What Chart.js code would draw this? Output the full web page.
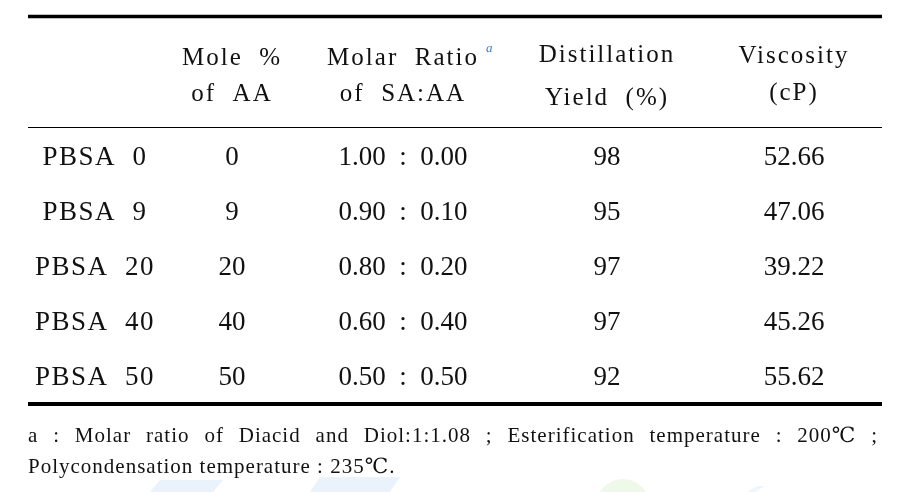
<!DOCTYPE html>
<html>
<head>
<meta charset="utf-8">
<script src="https://cdn.jsdelivr.net/npm/chart.js@4.4.1/dist/chart.umd.min.js"></script>
<style>
  html, body { margin: 0; padding: 0; background: #fff; }
  canvas { display: block; }
</style>
</head>
<body>
<canvas id="table" width="913" height="492"></canvas>
<script>
// table data
const rowLabels = ["PBSA  0", "PBSA  9", "PBSA  20", "PBSA  40", "PBSA  50"];
const moleAA = [0, 9, 20, 40, 50];
const ratioSA = [1.00, 0.90, 0.80, 0.60, 0.50];
const ratioAA = [0.00, 0.10, 0.20, 0.40, 0.50];
const yieldPct = [98, 95, 97, 97, 92];
const viscosity = [52.66, 47.06, 39.22, 45.26, 55.62];
const headerTop = ["", "Mole  %", "Molar  Ratio", "Distillation", "Viscosity"];
const headerBottom = ["", "of  AA", "of  SA:AA", "Yield  (%)", "(cP)"];
const footnoteLine1 = "a : Molar ratio of Diacid and Diol:1:1.08 ; Esterification temperature : 200\u2103 ;";
const footnoteLine2 = "Polycondensation temperature : 235\u2103.";

// layout (canvas units)
const colCenters = [95, 232, 403, 607, 794];
const headerBase = [[0, 0], [65, 101], [65, 101], [62, 105], [63, 100]];
const firstRowBase = 165;
const rowStep = 55;
const tableLeft = 28, tableRight = 882;

const columns = [
  rowLabels,
  moleAA.map(String),
  ratioSA.map((v, i) => v.toFixed(2) + "  :  " + ratioAA[i].toFixed(2)),
  yieldPct.map(String),
  viscosity.map(v => v.toFixed(2)),
];

const serif = '"Liberation Serif", "DejaVu Serif", serif';

const tablePlugin = {
  id: "tablePlugin",
  beforeDraw(chart) {
    const { ctx, scales: { x, y } } = chart;
    ctx.save();
    ctx.fillStyle = "#fff";
    ctx.fillRect(0, 0, chart.width, chart.height);
    // faint watermark blobs at the foot of the page
    const blob = (x0, x1, y0, col) => {
      ctx.fillStyle = col;
      ctx.beginPath();
      ctx.moveTo(x.getPixelForValue(x0 + 10), y.getPixelForValue(y0));
      ctx.lineTo(x.getPixelForValue(x1), y.getPixelForValue(y0));
      ctx.lineTo(x.getPixelForValue(x1 - 10), y.getPixelForValue(492));
      ctx.lineTo(x.getPixelForValue(x0), y.getPixelForValue(492));
      ctx.closePath();
      ctx.fill();
    };
    blob(150, 223, 480, "rgba(195,222,245,0.35)");
    blob(310, 400, 477, "rgba(195,222,245,0.35)");
    blob(747, 765, 486, "rgba(200,225,245,0.3)");
    ctx.fillStyle = "rgba(210,238,195,0.35)";
    ctx.beginPath();
    ctx.arc(x.getPixelForValue(623), y.getPixelForValue(506), 27, 0, Math.PI * 2);
    ctx.fill();
    ctx.restore();
  },
  afterDatasetsDraw(chart) {
    const { ctx, scales: { x, y } } = chart;
    ctx.save();
    ctx.fillStyle = "#111";
    ctx.strokeStyle = "#000";

    const rule = (yv, w) => {
      ctx.lineWidth = w;
      ctx.beginPath();
      ctx.moveTo(x.getPixelForValue(tableLeft), y.getPixelForValue(yv));
      ctx.lineTo(x.getPixelForValue(tableRight), y.getPixelForValue(yv));
      ctx.stroke();
    };
    rule(16.5, 3.5);
    rule(127.5, 1.2);
    rule(404, 4);

    // headers
    ctx.textAlign = "center";
    ctx.textBaseline = "alphabetic";
    ctx.font = "25px " + serif;
    ctx.letterSpacing = "2px";
    headerTop.forEach((t, c) => {
      if (!t) return;
      const cx = x.getPixelForValue(colCenters[c]);
      ctx.fillText(t, cx, y.getPixelForValue(headerBase[c][0]));
      ctx.fillText(headerBottom[c], cx, y.getPixelForValue(headerBase[c][1]));
    });
    // superscript a
    ctx.letterSpacing = "0px";
    ctx.font = "italic 13px " + serif;
    ctx.fillStyle = "#3b78c4";
    ctx.textAlign = "left";
    ctx.fillText("a", x.getPixelForValue(486), y.getPixelForValue(52));

    // cells
    ctx.fillStyle = "#111";
    ctx.textAlign = "center";
    chart.data.datasets.forEach((ds, di) => {
      const meta = chart.getDatasetMeta(di);
      ctx.font = "27px " + serif;
      ctx.letterSpacing = di === 0 ? "1.5px" : "0px";
      meta.data.forEach((pt, j) => {
        ctx.fillText(ds.texts[j], pt.x, pt.y);
      });
    });

    // footnote, first line justified
    ctx.font = "21px " + serif;
    ctx.letterSpacing = "1px";
    ctx.textAlign = "left";
    const words = footnoteLine1.split(" ");
    const widths = words.map(w => ctx.measureText(w).width);
    const left = x.getPixelForValue(tableLeft), right = x.getPixelForValue(tableRight - 4);
    const gap = (right - left - widths.reduce((a, b) => a + b, 0)) / (words.length - 1);
    let px = left;
    const b1 = y.getPixelForValue(442);
    words.forEach((w, i) => {
      ctx.fillText(w, px, b1);
      px += widths[i] + gap;
    });
    ctx.fillText(footnoteLine2, left, y.getPixelForValue(473));
    ctx.restore();
  }
};

const datasets = columns.map((texts, c) => ({
  label: "col" + c,
  texts: texts,
  data: texts.map((_, r) => ({ x: colCenters[c], y: firstRowBase + r * rowStep })),
  pointRadius: 0,
  pointHoverRadius: 0,
  showLine: false,
}));

new Chart(document.getElementById("table"), {
  type: "scatter",
  data: { datasets },
  options: {
    responsive: false,
    animation: false,
    events: [],
    layout: { padding: 0 },
    plugins: { legend: { display: false }, tooltip: { enabled: false } },
    scales: {
      x: { type: "linear", min: 0, max: 913, display: false },
      y: { type: "linear", min: 0, max: 492, reverse: true, display: false },
    },
  },
  plugins: [tablePlugin],
});
</script>
</body>
</html>
